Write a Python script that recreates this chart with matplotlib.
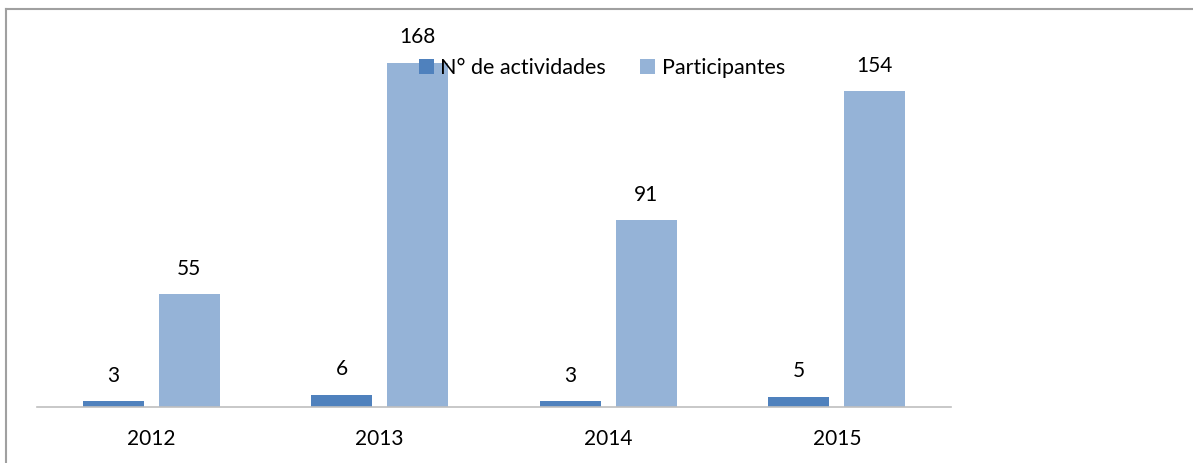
import matplotlib.pyplot as plt
import numpy as np
from matplotlib.lines import Line2D

# Chart data
years = ['2012', '2013', '2014', '2015']
actividades = [3, 6, 3, 5]
participantes = [55, 168, 91, 154]

plt.rcParams['font.family'] = ['Lato', 'DejaVu Sans']

W, H = 1193, 463
fig = plt.figure(figsize=(W / 100, H / 100), dpi=100)
ax = fig.add_axes([37 / W, (H - 407) / H, (951 - 37) / W, (407 - 38) / H])

x = np.arange(len(years))
width = 0.267
off = 0.166
b1 = ax.bar(x - off, actividades, width, color='#4F81BD', label='N° de actividades')
b2 = ax.bar(x + off, participantes, width, color='#95B3D7', label='Participantes')

for bars, vals in ((b1, actividades), (b2, participantes)):
    for rect, v in zip(bars, vals):
        ax.annotate(str(v), (rect.get_x() + rect.get_width() / 2, rect.get_height()),
                    xytext=(0, 11), textcoords='offset points',
                    ha='center', va='bottom', fontsize=15, color='#000000')

ax.set_xlim(-0.5, len(years) - 0.5)
ax.set_ylim(0, 180)
ax.set_xticks(x)
ax.set_xticklabels(years, fontsize=15)
ax.tick_params(axis='x', length=0, pad=15.5)
ax.set_yticks([])
for s in ('top', 'right', 'left'):
    ax.spines[s].set_visible(False)
ax.spines['bottom'].set_color('#BFBFBF')
ax.spines['bottom'].set_linewidth(1.2)

fig.legend(loc='center', bbox_to_anchor=(602 / W, 1 - 68 / H), ncol=2, frameon=False,
           prop={'size': 15.5}, handlelength=0.68, handleheight=0.68, handletextpad=0.3,
           columnspacing=1.6, borderpad=0)

# outer chart border
fig.add_artist(Line2D([6.5 / W, 6.5 / W], [0, 1 - 9 / H], color='#A0A0A0', lw=1.5))
fig.add_artist(Line2D([6.5 / W, 1192 / W], [1 - 9 / H, 1 - 9 / H], color='#A0A0A0', lw=1.5))

fig.savefig('out.png', dpi=100)
